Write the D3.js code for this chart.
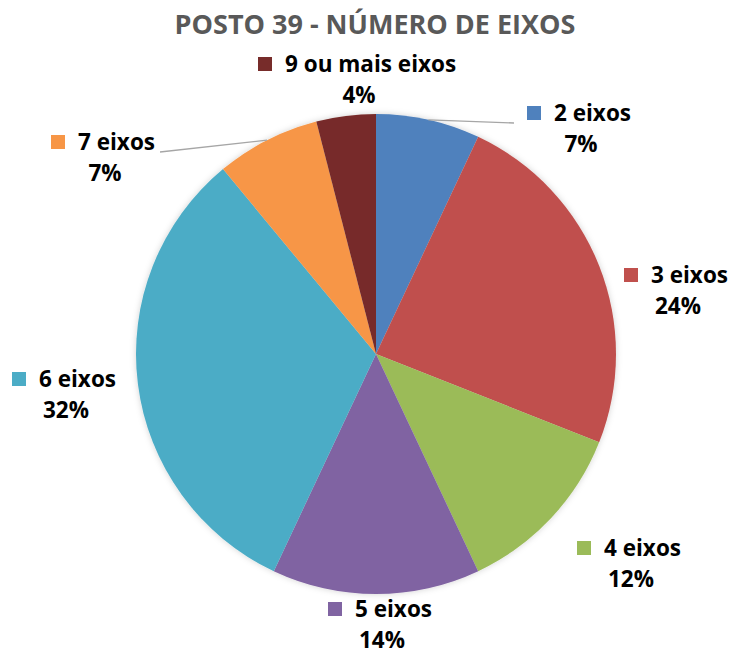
<!DOCTYPE html>
<html>
<head>
<meta charset="utf-8">
<script src="https://cdn.jsdelivr.net/npm/d3@7"></script>
<style>
  body { margin: 0; background: #fff; }
  text { font-family: "Open Sans", sans-serif; font-weight: bold; }
</style>
</head>
<body>
<div id="chart"></div>
<script>
// data
var categories = ["2 eixos", "3 eixos", "4 eixos", "5 eixos", "6 eixos", "7 eixos", "9 ou mais eixos"];
var shares = [7, 24, 12, 14, 32, 7, 4];
var colors = ["#4F81BD", "#C0504D", "#9BBB59", "#8064A2", "#4BACC6", "#F79646", "#772C2A"];
// label anchors (left of marker, baseline of the first line)
var labelPos = [[527, 121], [624, 283], [577, 556], [328, 617], [12, 387], [51, 150], [258, 72]];

var W = 729, H = 655;
var cx = 376, cy = 354, r = 240;

var svg = d3.select("#chart").append("svg")
  .attr("width", W).attr("height", H);

var defs = svg.append("defs");
var f = defs.append("filter").attr("id", "shadow")
  .attr("x", "-10%").attr("y", "-10%").attr("width", "120%").attr("height", "120%");
f.append("feGaussianBlur").attr("in", "SourceAlpha").attr("stdDeviation", 3).attr("result", "b");
f.append("feFlood").attr("flood-color", "#000").attr("flood-opacity", 0.18);
f.append("feComposite").attr("in2", "b").attr("operator", "in").attr("result", "s");
var fm = f.append("feMerge");
fm.append("feMergeNode").attr("in", "s");
fm.append("feMergeNode").attr("in", "SourceGraphic");

// title
svg.append("text")
  .attr("x", 375).attr("y", 34)
  .attr("text-anchor", "middle")
  .attr("fill", "#595959")
  .style("font-size", "27px")
  .text("POSTO 39 - NÚMERO DE EIXOS");

var data = categories.map(function(c, i) { return {name: c, value: shares[i], color: colors[i], pos: labelPos[i]}; });

var pie = d3.pie().sort(null).value(function(d) { return d.value; });
var arc = d3.arc().innerRadius(0).outerRadius(r);
var arcs = pie(data);

var g = svg.append("g").attr("transform", "translate(" + cx + "," + cy + ")");
g.append("g").attr("filter", "url(#shadow)")
  .selectAll("path")
  .data(arcs)
  .enter().append("path")
  .attr("d", arc)
  .attr("fill", function(d) { return d.data.color; });

// leader lines for the two small top slices
var edge = d3.arc().innerRadius(r).outerRadius(r);
function leader(i, x2, y2) {
  var p = edge.centroid(arcs[i]);
  svg.append("line")
    .attr("x1", cx + p[0]).attr("y1", cy + p[1])
    .attr("x2", x2).attr("y2", y2)
    .attr("stroke", "#a6a6a6").attr("stroke-width", 1.3);
}
leader(0, 514, 123);
leader(5, 160, 152);

// labels
var lab = svg.selectAll("g.lab")
  .data(data)
  .enter().append("g").attr("class", "lab")
  .attr("transform", function(d) { return "translate(" + d.pos[0] + "," + d.pos[1] + ")"; });

lab.append("rect")
  .attr("x", 0).attr("y", -15)
  .attr("width", 14).attr("height", 14)
  .attr("fill", function(d) { return d.color; });

lab.append("text")
  .attr("x", 27).attr("y", 0)
  .attr("fill", "#000")
  .style("font-size", "22.5px")
  .text(function(d) { return d.name; });

lab.each(function(d) {
  var t = d3.select(this).select("text").node();
  var w = t.getComputedTextLength();
  d3.select(this).append("text")
    .attr("x", (27 + w) / 2 + 2).attr("y", 31)
    .attr("text-anchor", "middle")
    .attr("fill", "#000")
    .style("font-size", "22.5px")
    .text(d.value + "%");
});
</script>
</body>
</html>
